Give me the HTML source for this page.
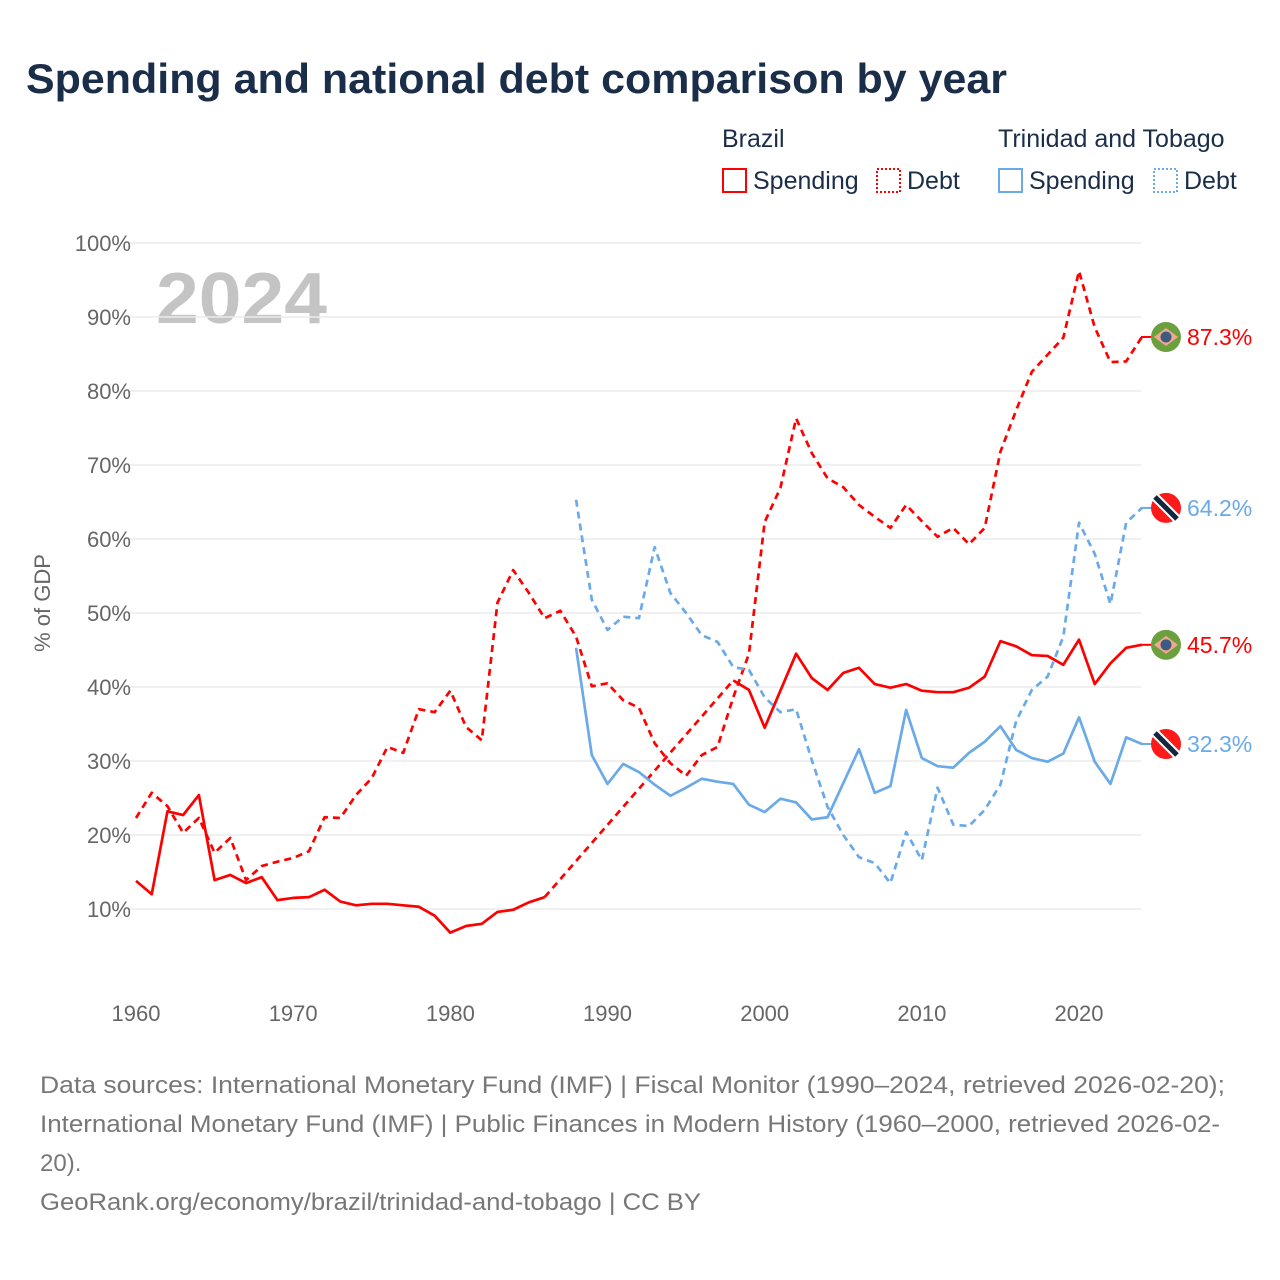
<!DOCTYPE html>
<html><head><meta charset="utf-8">
<style>
body{margin:0;background:#fff;width:1280px;height:1280px;overflow:hidden;font-family:"Liberation Sans",sans-serif;}
svg{display:block}
</style></head>
<body>
<svg id="chart" width="1280" height="1280" viewBox="0 0 1280 1280" xmlns="http://www.w3.org/2000/svg">
<text x="26" y="93" font-size="42" font-weight="bold" fill="#1a2e4a" textLength="981" lengthAdjust="spacingAndGlyphs">Spending and national debt comparison by year</text>
<g font-size="25" fill="#1a2e4a">
 <text x="722" y="147">Brazil</text>
 <text x="998" y="147">Trinidad and Tobago</text>
 <g><rect x="723" y="169" width="23" height="23" fill="none" stroke="#ff0000" stroke-width="2"/><text x="753" y="189">Spending</text></g>
 <g><rect x="877" y="169" width="23" height="23" fill="none" stroke="#ff0000" stroke-width="2" stroke-dasharray="2,2"/><text x="907" y="189">Debt</text></g>
 <g><rect x="999" y="169" width="23" height="23" fill="none" stroke="#6aaae8" stroke-width="2"/><text x="1029" y="189">Spending</text></g>
 <g><rect x="1154" y="169" width="23" height="23" fill="none" stroke="#6aaae8" stroke-width="2" stroke-dasharray="2,2"/><text x="1184" y="189">Debt</text></g>
</g>
<text x="156" y="323" font-size="72" font-weight="bold" fill="#c4c4c4" textLength="171" lengthAdjust="spacingAndGlyphs">2024</text>
<text transform="translate(50,603) rotate(-90)" text-anchor="middle" font-size="22" fill="#666">% of GDP</text>
<g id="grid"></g><g id="series"></g><g id="ends"></g>
<g font-size="24" fill="#777">
 <text x="40" y="1093" textLength="1185" lengthAdjust="spacingAndGlyphs">Data sources: International Monetary Fund (IMF) | Fiscal Monitor (1990–2024, retrieved 2026-02-20);</text>
 <text x="40" y="1132" textLength="1180" lengthAdjust="spacingAndGlyphs">International Monetary Fund (IMF) | Public Finances in Modern History (1960–2000, retrieved 2026-02-</text>
 <text x="40" y="1171">20).</text>
 <text x="40" y="1210" textLength="661" lengthAdjust="spacingAndGlyphs">GeoRank.org/economy/brazil/trinidad-and-tobago | CC BY</text>
</g>
</svg>
<script>
const years = Array.from({length:65},(_, i)=>1960+i);
const brSpending = [13.8,12.0,23.2,22.7,25.4,13.9,14.6,13.5,14.3,11.2,11.5,11.6,12.6,11.0,10.5,10.7,10.7,10.5,10.3,9.1,6.8,7.7,8.0,9.6,9.9,10.9,11.6,null,null,null,null,null,null,null,null,null,null,null,40.9,39.6,34.5,39.5,44.5,41.2,39.6,41.9,42.6,40.4,39.9,40.4,39.5,39.3,39.3,39.9,41.4,46.2,45.5,44.3,44.2,43.0,46.4,40.4,43.2,45.3,45.7];
const brDebt = [22.3,25.7,23.9,20.3,22.3,17.6,19.6,13.9,15.8,16.4,16.9,17.8,22.4,22.3,25.4,27.7,31.9,31.1,37.0,36.6,39.5,34.6,32.8,51.4,55.8,52.7,49.3,50.3,46.8,40.1,40.5,38.2,37.2,32.4,29.7,28.0,30.8,31.9,38.6,44.5,62.3,66.9,76.3,71.6,68.2,67.0,64.6,63.0,61.5,64.6,62.4,60.3,61.5,59.3,61.5,71.8,77.4,82.6,84.9,87.2,96.2,88.6,83.9,84.0,87.3];
const ttSpending = [null,null,null,null,null,null,null,null,null,null,null,null,null,null,null,null,null,null,null,null,null,null,null,null,null,null,null,null,45.3,30.8,26.9,29.6,28.5,26.8,25.3,26.4,27.6,27.2,26.9,24.1,23.1,24.9,24.4,22.1,22.4,27.0,31.6,25.7,26.6,36.9,30.4,29.3,29.1,31.1,32.6,34.7,31.5,30.4,29.9,31.0,35.9,29.9,26.9,33.2,32.3];
const ttDebt = [null,null,null,null,null,null,null,null,null,null,null,null,null,null,null,null,null,null,null,null,null,null,null,null,null,null,null,null,65.3,51.8,47.7,49.5,49.3,58.9,52.7,50.0,47.0,46.1,42.7,42.3,38.6,36.6,37.0,30.1,23.8,20.0,17.0,16.2,13.5,20.4,16.6,26.4,21.4,21.2,23.4,26.8,35.4,39.6,41.4,46.8,62.2,58.0,51.2,62.2,64.2];
const yTicks = [10,20,30,40,50,60,70,80,90,100];
const xTicks = [1960,1970,1980,1990,2000,2010,2020];

const NS="http://www.w3.org/2000/svg";
const xS = y => 136 + (y-1960)*15.717;
const yS = v => 983 - v*7.4;
function mk(tag, attrs, parent){const e=document.createElementNS(NS,tag);for(const k in attrs)e.setAttribute(k,attrs[k]);parent.appendChild(e);return e;}
const grid=document.getElementById('grid'), series=document.getElementById('series'), ends=document.getElementById('ends');
yTicks.forEach(t=>{
  const l=mk('line',{x1:128,x2:1141,y1:yS(t),y2:yS(t),stroke:'#ebebeb','stroke-width':1.5},grid);
  
  
  const tx=mk('text',{x:131,y:yS(t)+8,'text-anchor':'end','font-size':22,fill:'#666'},grid);
  tx.textContent=t+'%';
  
  
});
xTicks.forEach(t=>{
  const tx=mk('text',{x:xS(t),y:1021,'text-anchor':'middle','font-size':22,fill:'#666'},grid);
  tx.textContent=t;
  
  
});
function draw(vals,color,dashed,name){
  let solid='',gap='',prev=null;
  vals.forEach((v,i)=>{
    if(v==null) return;
    const p=[xS(years[i]),yS(v)];
    if(prev && prev.i===i-1){ solid+=`L${p[0]},${p[1]}`; }
    else { if(prev) gap+=`M${prev.p[0]},${prev.p[1]}L${p[0]},${p[1]}`; solid+=`M${p[0]},${p[1]}`; }
    prev={i,p};
  });
  const a=mk('path',{d:solid,fill:'none',stroke:color,'stroke-width':2.7,'stroke-linejoin':'round','stroke-dasharray':dashed?'7,5':'none'},series);
  
  
  if(gap){const g=mk('path',{d:gap,fill:'none',stroke:color,'stroke-width':2.7,'stroke-dasharray':'7,5'},series);
    
    }
}
draw(brSpending,'#ff0000',false,'brazil-spending-line');
draw(brDebt,'#ff0000',true,'brazil-debt-line');
draw(ttSpending,'#6aaae8',false,'tt-spending-line');
draw(ttDebt,'#6aaae8',true,'tt-debt-line');
function endLabel(vals,color,flag,name){
  const v=vals[vals.length-1], y=yS(v), x=1166;
  const g=mk('g',{},ends);
  
  
  mk('line',{x1:1141,x2:1152,y1:y,y2:y,stroke:color,'stroke-width':2},g);
  if(flag==='br'){
    mk('circle',{cx:x,cy:y,r:15,fill:'#6c9f3e'},g);
    mk('polygon',{points:`${x-12},${y} ${x},${y-9} ${x+12},${y} ${x},${y+9}`,fill:'#f0a890'},g);
    mk('circle',{cx:x,cy:y,r:5.5,fill:'#3d5a80'},g);
  } else {
    mk('circle',{cx:x,cy:y,r:15,fill:'#ff1a1a'},g);
    mk('line',{x1:x-11,y1:y-11,x2:x+11,y2:y+11,stroke:'#fff','stroke-width':9},g);
    mk('line',{x1:x-11,y1:y-11,x2:x+11,y2:y+11,stroke:'#14263f','stroke-width':5},g);
  }
  const t=mk('text',{x:1187,y:y+8,'font-size':23,fill:color},g);
  t.textContent=v.toFixed(1)+'%';
}
endLabel(brDebt,'#ff0000','br','brazil-debt-end-label');
endLabel(ttDebt,'#6aaae8','tt','tt-debt-end-label');
endLabel(brSpending,'#ff0000','br','brazil-spending-end-label');
endLabel(ttSpending,'#6aaae8','tt','tt-spending-end-label');
</script>
</body></html>
